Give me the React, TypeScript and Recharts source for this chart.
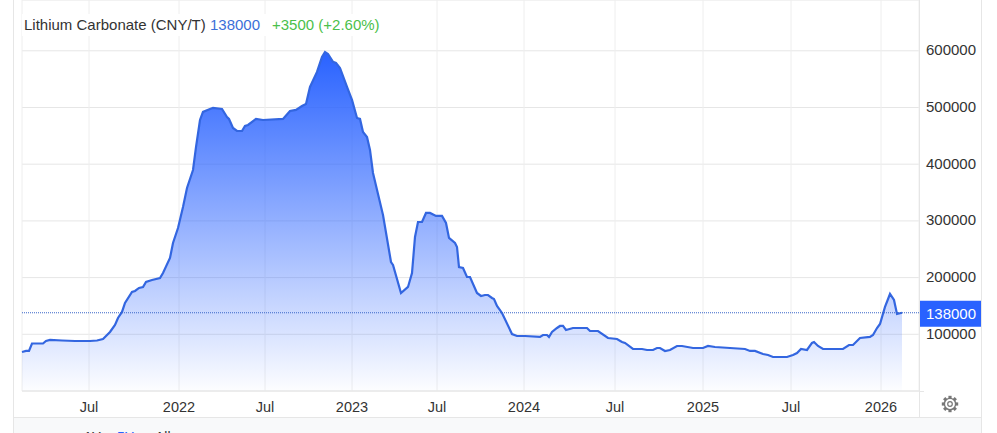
import { Area, AreaChart, CartesianGrid, ReferenceLine, XAxis, YAxis } from "recharts";

// x is a running session count, the feed's time axis is not evenly spaced per year
const sessions = [
  0, 4, 7, 10, 21, 24, 28, 40, 53, 68, 75, 81, 88, 93, 96, 100, 103, 110, 113, 117, 121, 124, 130, 138, 141,
  148, 151, 156, 161, 165, 171, 174, 178, 181, 188, 191, 200, 205, 207, 211, 215, 220, 223, 226, 234, 241,
  261, 268, 274, 280, 284, 288, 295, 300, 303, 306, 311, 314, 318, 325, 330, 335, 338, 341, 345, 348, 351,
  361, 369, 371, 379, 386, 390, 393, 396, 400, 404, 408, 414, 420, 424, 427, 433, 435, 437, 441, 445, 448,
  455, 459, 463, 466, 470, 472, 475, 480, 490, 495, 503, 518, 521, 525, 527, 530, 535, 538, 541, 544, 551,
  565, 568, 576, 586, 595, 600, 603, 611, 620, 625, 631, 635, 638, 643, 648, 655, 660, 671, 681, 686, 693,
  708, 723, 728, 733, 741, 746, 751, 765, 771, 775, 779, 785, 790, 792, 796, 801, 805, 821, 827, 831, 838,
  848, 851, 855, 858, 863, 868, 872, 875, 880,
];

const prices = [
  68800, 70600, 70600, 83800, 83800, 88200, 90000, 89100, 88200, 88200, 89100, 91700, 104100, 116400, 128800,
  139400, 155200, 174600, 176400, 181700, 183500, 192300, 195800, 199300, 208100, 234600, 261100, 287500,
  324600, 358100, 389800, 430000, 478000, 492200, 497400, 499200, 497400, 483300, 479800, 463900, 458600,
  458600, 467400, 469200, 479800, 478000, 479800, 493900, 495700, 502700, 506300, 536300, 562700, 589200,
  598000, 594500, 580400, 578600, 569700, 536300, 513300, 481500, 479800, 456900, 448000, 425100, 384600,
  310500, 227500, 222300, 172900, 183500, 208100, 271700, 298100, 298100, 314000, 314000, 308700, 308700,
  296300, 269900, 261100, 254000, 218700, 217000, 201100, 201100, 172900, 167600, 169300, 169300, 164100,
  162300, 149900, 137600, 100500, 97000, 97000, 95300, 98800, 98800, 95300, 104100, 111100, 114700, 114700,
  107600, 111100, 111100, 105800, 105800, 93500, 91700, 86400, 84700, 74100, 74100, 72300, 72300, 75800,
  75800, 70600, 72300, 79400, 79400, 75800, 75800, 79400, 77600, 75800, 74100, 70600, 70600, 65300, 63500,
  60000, 60000, 63500, 67000, 74100, 72300, 84700, 86400, 79400, 74100, 74100, 74100, 81100, 81100, 93500,
  95300, 98800, 111100, 118200, 148200, 171100, 160500, 135800, 138000,
];

const xTicks = [67, 157, 243, 330, 415, 502, 593, 681, 769, 859];
const xLabels = ["Jul", "2022", "Jul", "2023", "Jul", "2024", "Jul", "2025", "Jul", "2026"];
const yTicks = [100000, 200000, 300000, 400000, 500000, 600000];
const lastPrice = 138000;

const data = sessions.map((session, i) => ({ session, price: prices[i] }));

const font = "Arial, 'Liberation Sans', sans-serif";

function PriceTag({ viewBox }: any) {
  return (
    <g>
      <rect x={viewBox.x + viewBox.width + 1} y={viewBox.y - 12} width={61} height={26} fill="#2962ff" />
      <text
        x={viewBox.x + viewBox.width + 7}
        y={viewBox.y + 6}
        fill="#fff"
        fontSize={15}
        fontFamily={font}
      >
        {lastPrice}
      </text>
    </g>
  );
}

function Gear() {
  const teeth = [0, 45, 90, 135, 180, 225, 270, 315];
  return (
    <svg
      width={18}
      height={18}
      viewBox="0 0 18 18"
      style={{ position: "absolute", left: 941, top: 395 }}
    >
      {teeth.map((a) => (
        <rect key={a} x={7.4} y={0.8} width={3.2} height={3} fill="#777" transform={`rotate(${a} 9 9)`} />
      ))}
      <circle cx={9} cy={9} r={5.6} fill="#fff" stroke="#777" strokeWidth={1.4} />
      <circle cx={9} cy={9} r={2.3} fill="#fff" stroke="#777" strokeWidth={1.2} />
    </svg>
  );
}

export default function App() {
  return (
    <div
      style={{
        position: "absolute",
        left: 0,
        top: 0,
        width: 997,
        height: 433,
        overflow: "hidden",
        background: "#fff",
        fontFamily: font,
      }}
    >
      <AreaChart
        width={997}
        height={433}
        data={data}
        margin={{ top: 0, right: 16, bottom: 16, left: 22 }}
      >
        <defs>
          <linearGradient id="priceFill" x1="0" y1="0" x2="0" y2="1">
            <stop offset="0%" stopColor="#2962ff" stopOpacity={1} />
            <stop offset="100%" stopColor="#2962ff" stopOpacity={0.01} />
          </linearGradient>
        </defs>
        <CartesianGrid vertical={false} stroke="#e6e6e6" />
        <CartesianGrid horizontal={false} stroke="#eeeeee" />
        <XAxis
          dataKey="session"
          type="number"
          domain={[0, 897]}
          ticks={xTicks}
          tickFormatter={(v: number) => xLabels[xTicks.indexOf(v)]}
          height={26}
          interval={0}
          tickLine={false}
          tickMargin={5}
          axisLine={{ stroke: "#e6e6e6" }}
          tick={{ fill: "#333", fontSize: 14.5, fontFamily: font }}
        />
        <YAxis
          orientation="right"
          width={62}
          domain={[0, 689600]}
          ticks={yTicks}
          interval={0}
          tickLine={false}
          axisLine={false}
          tickMargin={1}
          tick={{ fill: "#333", fontSize: 15, fontFamily: font, dy: -1 }}
        />
        <Area
          type="linear"
          dataKey="price"
          stroke="#3366e0"
          strokeWidth={2.2}
          fill="url(#priceFill)"
          fillOpacity={1}
          isAnimationActive={false}
          dot={false}
          activeDot={false}
        />
        <ReferenceLine
          y={lastPrice}
          stroke="#3a66c8"
          strokeDasharray="1 1"
          label={<PriceTag />}
        />
      </AreaChart>

      {/* frame around the plot */}
      <div style={{ position: "absolute", left: 13, top: 0, width: 1, height: 433, background: "#e6e6e6" }} />
      <div style={{ position: "absolute", left: 981, top: 0, width: 1, height: 433, background: "#e6e6e6" }} />
      <div style={{ position: "absolute", left: 919, top: 0, width: 1, height: 417, background: "#e6e6e6" }} />
      <div style={{ position: "absolute", left: 919, top: 391, width: 5, height: 1, background: "#e6e6e6" }} />
      <div style={{ position: "absolute", left: 14, top: 417, width: 967, height: 1, background: "#e6e6e6" }} />
      <Gear />

      {/* range picker, cut off by the bottom of the screenshot */}
      <div
        style={{
          position: "absolute",
          left: 14,
          top: 418,
          width: 967,
          height: 15,
          background: "#f8f9fa",
          overflow: "hidden",
          fontSize: 14,
          color: "#333",
        }}
      >
        <span style={{ position: "absolute", left: 70, top: 11 }}>1Y</span>
        <span style={{ position: "absolute", left: 103, top: 11, color: "#2962ff" }}>5Y</span>
        <span style={{ position: "absolute", left: 141, top: 11 }}>All</span>
      </div>

      <div
        style={{
          position: "absolute",
          left: 22,
          top: 14,
          width: 362,
          height: 22,
          background: "#fff",
          fontSize: 15,
          lineHeight: "22px",
          whiteSpace: "nowrap",
        }}
      >
        <span style={{ position: "absolute", left: 2, color: "#333" }}>Lithium Carbonate (CNY/T)</span>
        <span style={{ position: "absolute", left: 188, color: "#3b6fd8" }}>138000</span>
        <span style={{ position: "absolute", left: 250, color: "#4bbf4b" }}>+3500 (+2.60%)</span>
      </div>
    </div>
  );
}
